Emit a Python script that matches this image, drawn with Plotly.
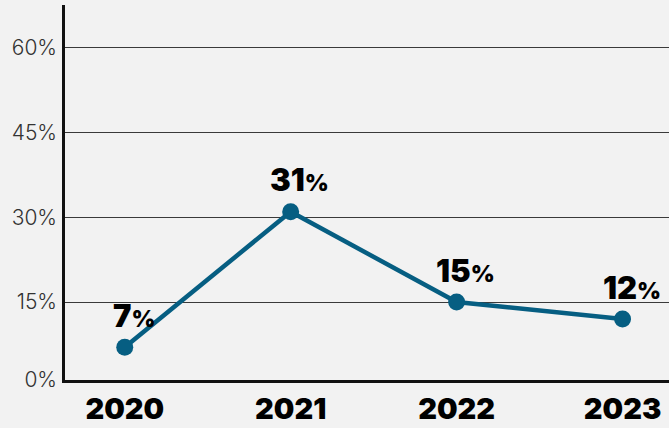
import plotly.graph_objects as go

years = ["2020", "2021", "2022", "2023"]
growth = [7, 31, 15, 12]
point_labels = ["7", "31", "15", "12"]
tick_values = [0, 15, 30, 45, 60]
tick_labels = ["0%", "15%", "30%", "45%", "60%"]

y_min, y_max = 1.2, 67.6
line_color = "#065e82"

fig = go.Figure()
fig.add_trace(go.Scatter(
    x=years, y=growth, mode="lines+markers",
    line=dict(color=line_color, width=4.5),
    marker=dict(color=line_color, size=17),
    hoverinfo="skip", showlegend=False, cliponaxis=False,
))

for i, (y, t) in enumerate(zip(growth, point_labels)):
    fig.add_annotation(
        x=i, y=y, xref="x", yref="y",
        text=t + '<span style="font-size:23px">%</span>',
        showarrow=False, xshift=9, yshift=32,
        font=dict(family="Inter", size=31, color="#000000", weight=900),
    )

fig.update_layout(
    width=669, height=428,
    margin=dict(l=65, r=0, t=5, b=48, autoexpand=False),
    paper_bgcolor="#f2f2f2", plot_bgcolor="#f2f2f2",
    xaxis=dict(
        type="category", range=[-0.36, 3.28], automargin=False,
        showgrid=False, showline=True, linecolor="#111111", linewidth=2.5,
        ticks="", ticklabelstandoff=1,
        tickfont=dict(family="Inter", size=29, color="#000000", weight=900),
    ),
    yaxis=dict(
        range=[y_min, y_max], automargin=False,
        tickvals=[max(v, y_min) for v in tick_values], ticktext=tick_labels,
        showgrid=True, gridcolor="#3a3a3a", gridwidth=1,
        showline=True, linecolor="#111111", linewidth=2.5,
        ticks="", zeroline=False, ticklabelstandoff=1,
        tickfont=dict(family="Inter", size=21, color="#333333", weight=300),
    ),
)

fig.write_html("out.html")
